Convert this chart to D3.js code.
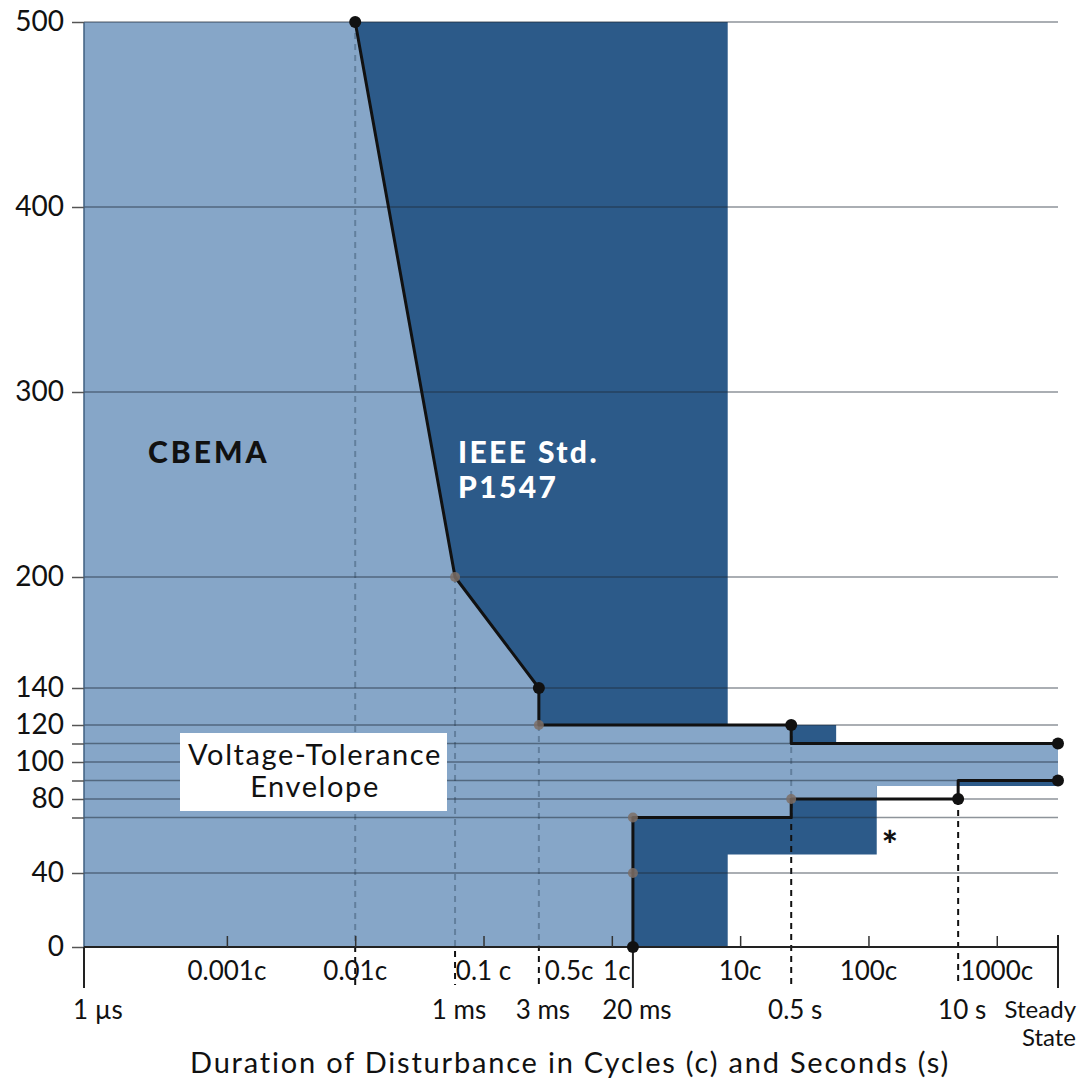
<!DOCTYPE html>
<html>
<head>
<meta charset="utf-8">
<script src="https://cdn.jsdelivr.net/npm/d3@7"></script>
<style>
  body { margin: 0; background: #fff; }
  svg text { font-family: Lato, "Open Sans", sans-serif; fill: #111; }
</style>
</head>
<body>
<div id="chart"></div>
<script>
// durations are kept in cycle units (c) as they sit on the drawn log axis
const cycleTickValues = [0.001, 0.01, 0.1, 1, 10, 100, 1000];
const cycleLabelValues = [0.001, 0.01, 0.1, 0.5, 1, 10, 100, 1000];
const cycleLabelText = ['0.001c', '0.01c', '0.1 c', '0.5c', '1c', '10c', '100c', '1000c'];
const timeMarkCycles = [7.7e-5, 0.06, 0.27, 1.46, 25, 500, 3000];
const timeMarkText = ['1 µs', '1 ms', '3 ms', '20 ms', '0.5 s', '10 s', 'Steady State'];

const yTickValues = [0, 40, 70, 80, 90, 100, 110, 120, 140, 200, 300, 400, 500];
const yLabelled = [0, 40, 80, 100, 120, 140, 200, 300, 400, 500];
const gridValues = [40, 70, 80, 90, 100, 110, 120, 140, 200, 300, 400, 500];

// regions: [cycles, percent voltage]
const ieeeArea = [[0.01,500],[8,500],[8,120],[56,120],[56,110],[3000,110],[3000,87],[116,87],[116,50],[8,50],[8,0],[1.46,0],[1.46,120],[0.27,120],[0.27,140],[0.06,200]];
const cbemaArea = [[7.7e-5,500],[0.01,500],[0.06,200],[0.27,140],[0.27,120],[25,120],[25,110],[3000,110],[3000,90],[500,90],[500,87],[116,87],[116,80],[25,80],[25,70],[1.46,70],[1.46,0],[7.7e-5,0]];
const upperCurve = [[0.01,500],[0.06,200],[0.27,140],[0.27,120],[25,120],[25,110],[3000,110]];
const lowerCurve = [[3000,90],[500,90],[500,80],[25,80],[25,70],[1.46,70],[1.46,0]];
const blackDots = [[0.01,500],[0.27,140],[25,120],[3000,110],[3000,90],[500,80],[1.46,0]];
const greyDots = [[0.06,200],[0.27,120],[25,80],[1.46,70],[1.46,40]];
const dropLines = [[0.01,500],[0.06,200],[0.27,120],[25,120],[500,80]];
const solidMarks = [7.7e-5, 1.46, 3000];

const W = 1080, H = 1084;
const svg = d3.select('#chart').append('svg').attr('width', W).attr('height', H);

const x = d3.scaleLog().domain([7.7e-5, 3000]).range([84, 1058]);
const y = d3.scaleLinear().domain([0, 500]).range([947, 22]);
const below = 985; // bottom end of marks under the axis

const line = d3.line().x(d => x(d[0])).y(d => y(d[1]));
const closed = d3.line().x(d => x(d[0])).y(d => y(d[1])).curve(d3.curveLinearClosed);

// dark IEEE region
svg.append('path').attr('d', closed(ieeeArea)).attr('fill', '#2c5a89');

// black dashed drops (seen where not covered by CBEMA fill)
svg.append('g').selectAll('line').data(dropLines).join('line')
  .attr('x1', d => x(d[0])).attr('x2', d => x(d[0]))
  .attr('y1', d => y(d[1])).attr('y2', below)
  .attr('stroke', '#111').attr('stroke-width', 2).attr('stroke-dasharray', '6,5');

// light CBEMA region
svg.append('path').attr('d', closed(cbemaArea)).attr('fill', '#86a6c8');
svg.append('clipPath').attr('id', 'cbemaClip').append('path').attr('d', closed(cbemaArea));

svg.append('g').attr('clip-path', 'url(#cbemaClip)')
  .selectAll('line').data(dropLines).join('line')
  .attr('x1', d => x(d[0])).attr('x2', d => x(d[0]))
  .attr('y1', d => y(d[1])).attr('y2', y(0))
  .attr('stroke', '#627f9d').attr('stroke-width', 2).attr('stroke-dasharray', '6,5');

// grid lines
svg.append('g').selectAll('line').data(gridValues).join('line')
  .attr('x1', x.range()[0]).attr('x2', x.range()[1])
  .attr('y1', d => y(d)).attr('y2', d => y(d))
  .attr('stroke', '#1e2a36').attr('stroke-opacity', 0.5).attr('stroke-width', 1.5);

// left edge
svg.append('line')
  .attr('x1', x.range()[0]).attr('x2', x.range()[0]).attr('y1', y(500)).attr('y2', y(0))
  .attr('stroke', '#3f5f80').attr('stroke-width', 1.5);

// y axis
const yAxis = svg.append('g').attr('transform', `translate(${x.range()[0]},0)`)
  .call(d3.axisLeft(y).tickValues(yTickValues).tickSize(12).tickPadding(8)
    .tickFormat(d => yLabelled.includes(d) ? d : ''));
yAxis.select('.domain').remove();
yAxis.selectAll('.tick line').attr('stroke', '#555').attr('stroke-width', 1.5);
yAxis.selectAll('.tick text').attr('font-size', 28).attr('fill', '#111')
  .style('font-family', 'Lato, sans-serif');

// x axis baseline + cycle ticks
svg.append('line')
  .attr('x1', x.range()[0]).attr('x2', x.range()[1]).attr('y1', y(0)).attr('y2', y(0))
  .attr('stroke', '#222').attr('stroke-width', 2);
const xAxis = svg.append('g').attr('transform', `translate(0,${y(0)})`)
  .call(d3.axisBottom(x).tickValues(cycleTickValues).tickSize(-11).tickFormat(''));
xAxis.select('.domain').remove();
xAxis.selectAll('.tick line').attr('stroke', '#333').attr('stroke-width', 1.5);

svg.append('g').selectAll('line').data(solidMarks).join('line')
  .attr('x1', d => x(d)).attr('x2', d => x(d))
  .attr('y1', (d, i) => i === 2 ? y(0) - 12 : y(0)).attr('y2', below + 3)
  .attr('stroke', '#222').attr('stroke-width', 2);

// 0.5c and 1c sit close together, nudge them apart a little
const nudge = { '0.5c': -4, '1c': 5 };
svg.append('g').selectAll('text').data(cycleLabelValues).join('text')
  .attr('x', (d, i) => x(d) + (nudge[cycleLabelText[i]] || 0)).attr('y', 980)
  .attr('text-anchor', 'middle').attr('font-size', 26)
  .text((d, i) => cycleLabelText[i]);

const tm = svg.append('g');
timeMarkCycles.forEach((c, i) => {
  const t = timeMarkText[i];
  if (t === 'Steady State') {
    tm.append('text').attr('x', 1076).attr('y', 1018).attr('text-anchor', 'end').attr('font-size', 24).text('Steady');
    tm.append('text').attr('x', 1076).attr('y', 1046).attr('text-anchor', 'end').attr('font-size', 24).text('State');
  } else if (i === 0) {
    tm.append('text').attr('x', x(c) - 11).attr('y', 1019).attr('font-size', 26).text(t);
  } else {
    tm.append('text').attr('x', x(c) + 4).attr('y', 1019).attr('text-anchor', 'middle').attr('font-size', 26).text(t);
  }
});

svg.append('text').attr('x', 570).attr('y', 1073).attr('text-anchor', 'middle')
  .attr('font-size', 29).attr('letter-spacing', 1.8)
  .text('Duration of Disturbance in Cycles (c) and Seconds (s)');

// boundary curves
[upperCurve, lowerCurve].forEach(c => {
  svg.append('path').attr('d', line(c)).attr('fill', 'none')
    .attr('stroke', '#111').attr('stroke-width', 3).attr('stroke-linejoin', 'round');
});

svg.append('g').selectAll('circle').data(greyDots).join('circle')
  .attr('cx', d => x(d[0])).attr('cy', d => y(d[1])).attr('r', 5)
  .attr('fill', '#7d6f66').attr('opacity', 0.85);
svg.append('g').selectAll('circle').data(blackDots).join('circle')
  .attr('cx', d => x(d[0])).attr('cy', d => y(d[1])).attr('r', 6)
  .attr('fill', '#111');

// labels
svg.append('text').attr('x', 148).attr('y', 463).attr('font-size', 30).attr('font-weight', 900)
  .attr('letter-spacing', 3).text('CBEMA');
svg.append('text').attr('x', 458).attr('y', 463).attr('font-size', 30).attr('font-weight', 900)
  .attr('letter-spacing', 2.4).style('fill', '#fff').text('IEEE Std.');
svg.append('text').attr('x', 458).attr('y', 498).attr('font-size', 30).attr('font-weight', 900)
  .attr('letter-spacing', 2.4).style('fill', '#fff').text('P1547');

svg.append('rect').attr('x', 180).attr('y', 733).attr('width', 267).attr('height', 78).attr('fill', '#fff');
svg.append('text').attr('x', 315).attr('y', 765).attr('text-anchor', 'middle').attr('font-size', 29)
  .attr('letter-spacing', 1.6).text('Voltage-Tolerance');
svg.append('text').attr('x', 315).attr('y', 797).attr('text-anchor', 'middle').attr('font-size', 29)
  .attr('letter-spacing', 1.6).text('Envelope');

svg.append('text').attr('x', x(116) + 13).attr('y', y(50) + 4).attr('text-anchor', 'middle')
  .attr('font-size', 38).attr('font-weight', 900).text('*');
</script>
</body>
</html>
